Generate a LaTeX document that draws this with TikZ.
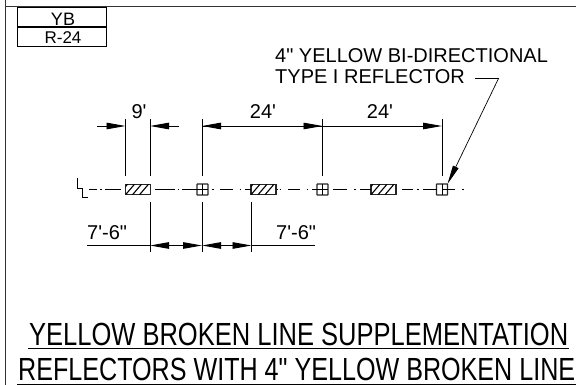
\documentclass[tikz,border=0pt]{standalone}
\usepackage{fontspec}
\usepackage{graphicx}
\setmainfont{Liberation Sans}[Ligatures=TeXOff]
\usetikzlibrary{arrows.meta,calc}
\tikzset{
  ln/.style={draw=black,line width=0.9pt},
  heavy/.style={draw=black!80,line width=1.2pt},
  lbl/.style={inner sep=0pt,font=\fontsize{20}{22}\selectfont,anchor=base},
  lblw/.style={lbl,anchor=base west},
  cell/.style={draw=black,line width=1pt,minimum width=89pt,minimum height=19pt,inner sep=0pt,outer sep=0pt},
  head/.style={-{Triangle[length=19pt,width=6.5pt]}},
  sq/.style={draw=black!85,line width=1.1pt,minimum width=11pt,minimum height=11pt,inner sep=0pt,outer sep=0pt,rounded corners=0.5pt},
  bar/.style={draw=black!85,line width=1.1pt,minimum width=25pt,minimum height=10.5pt,inner sep=0pt,outer sep=0pt},
  title/.style={inner sep=0pt,anchor=base west,font=\fontsize{32}{34}\selectfont}
}
\begin{document}
\begin{tikzpicture}[x=1pt,y=-1pt]
\useasboundingbox (0,0) rectangle (576,385);
\fill[white] (0,0) rectangle (576,385);
% frame
\coordinate (ftl) at (5.5,6.5); \coordinate (ftr) at (576,6.5);
\coordinate (ft) at (5.5,0); \coordinate (fb) at (5.5,385);
\draw[heavy] (ftl) -- (ftr);
\draw[heavy] (ft) -- (fb);
% table
\node[cell] (yb) at (62,17.5) {};
\node[cell] (r24) at (62,37) {};
\node[lbl,font=\fontsize{18}{20}\selectfont] (ybt) at (63,25.5) {YB};
\node[lbl,font=\fontsize{17}{19}\selectfont] (r24t) at (63,44) {R-24};
% callout
\node[lblw] (l1) at (275,63) {4" YELLOW BI-DIRECTIONAL};
\node[lblw] (l2) at (275,84) {TYPE I REFLECTOR};
% bars and reflectors
\foreach \n/\x in {b1/138,b2/263.5,b3/383.5}{
  \node[bar] (\n) at (\x,189.5) {};
  \begin{scope}
    \clip (\n.south west) rectangle (\n.north east);
    \foreach \d in {-7,0,7,14}
      \draw[line width=1.1pt] ($(\n.south west)+(\d,0)$) -- ++(9,-10.5);
  \end{scope}
}
\foreach \n/\x in {s1/202.5,s2/322.5,s3/442}{
  \node[sq] (\n) at (\x,189.5) {};
  \draw[line width=0.9pt] (\n.north) -- (\n.south);
}
% center line segments
\foreach \a/\b in {89/97,100/101.5,105/121,155/175,177.5/179,182/208,212/213.5,220/233,239.5/241,245/251,277/278,279.5/281,288/300,306.5/308,312/328,333/347,354/355.5,360/371,402/413,417/418.5,423/437,442/455,462/463.5}
  \draw[line width=0.9pt] (\a,189.5) -- (\b,189.5);
% centerline symbol
\coordinate (c1) at (77,178); \coordinate (c2) at (77,188); \coordinate (c3) at (83,188);
\coordinate (c4) at (82,188); \coordinate (c5) at (82,197); \coordinate (c6) at (88,197);
\draw[ln] (c1) -- (c2) -- (c3);
\draw[ln] (c4) -- (c5) -- (c6);
% extension lines above
\foreach \n/\x in {ea/125.5,eb/150,ec/202,ed/322.5,ee/442}{
  \coordinate (\n t) at (\x,119);
  \coordinate (\n b) at (\x,176.5);
  \coordinate (\n d) at (\x,126);
  \draw[ln] (\n t) -- (\n b);
}
% upper dimensions
\coordinate (dl) at (97,126); \coordinate (dr) at (179,126);
\draw[ln,head] (dl) -- (ead);
\draw[ln,head] (dr) -- (ebd);
\draw[ln,head] (edd) -- (ecd);
\draw[ln,head] (ecd) -- (edd);
\draw[ln,head] (edd) -- (eed);
\node[lbl] (t9) at (139,119) {9'};
\node[lbl] (t24a) at (263,119) {24'};
\node[lbl] (t24b) at (380,119) {24'};
% extension lines below
\foreach \n/\x in {fa/150,fb/202,fc/251.5}{
  \coordinate (\n t) at (\x,202);
  \coordinate (\n b) at (\x,252);
  \coordinate (\n d) at (\x,245.5);
  \draw[ln] (\n t) -- (\n b);
}
% lower dimensions
\coordinate (gl) at (87,245.5); \coordinate (gr) at (315,245.5);
\coordinate (gm) at (176,245.5); \coordinate (gn) at (226,245.5);
\draw[ln] (gl) -- (fad);
\draw[ln] (fcd) -- (gr);
\draw[ln,head] (gm) -- (fad);
\draw[ln,head] (gm) -- (fbd);
\draw[ln,head] (gn) -- (fbd);
\draw[ln,head] (gn) -- (fcd);
\node[lblw] (t76a) at (87,239) {7'-6"};
\node[lblw] (t76b) at (276,239) {7'-6"};
% leader
\coordinate (la) at (475,78.5); \coordinate (lb) at (498.5,78.5);
\draw[line width=0.7pt,-{Triangle[length=19pt,width=6pt]}] (la) -- (lb) -- (s3.north east);
% titles
\node[title] (tt1) at (29,345) {\resizebox{539pt}{\height}{YELLOW BROKEN LINE SUPPLEMENTATION}};
\node[title] (tt2) at (18,380) {\resizebox{557pt}{\height}{REFLECTORS WITH 4" YELLOW BROKEN LINE}};
\coordinate (u1a) at (28,348.5); \coordinate (u1b) at (569,348.5);
\coordinate (u2a) at (17,384); \coordinate (u2b) at (576,384);
\draw[ln] (u1a) -- (u1b);
\draw[ln] (u2a) -- (u2b);
\end{tikzpicture}
\end{document}
